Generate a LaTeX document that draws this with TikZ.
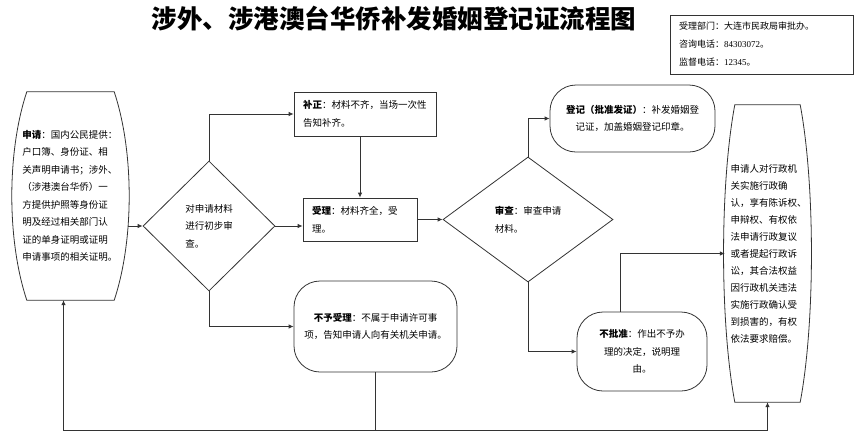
\documentclass[tikz,border=0pt]{standalone}
\usepackage{fontspec}
\setmainfont{Noto Sans CJK SC}
\newfontfamily\latinserif{Liberation Serif}
\usepackage{tikz}
\usetikzlibrary{positioning, calc, arrows.meta, shapes.geometric}
\tikzset{
    block/.style = {rectangle, draw, align=left},
    line/.style = {draw, -{Latex[length=5pt,width=4pt]}},
}

\begin{document}
\begin{tikzpicture}[
        x=1pt, y=-1pt,
        txt/.style={font=\fontsize{9.5}{17.5}\selectfont},
        box/.style={
            rectangle,
            draw=black!80,
            line width=0.8pt,
            align=left,
            inner xsep=9pt,
            txt
        },
        pill/.style={box, rounded corners=26pt, align=center},
        check/.style={
            diamond,
            draw=black!80,
            line width=0.8pt,
            inner sep=0pt,
            align=left,
            txt
        },
        barrel/.style={rectangle, align=left, inner sep=0pt, txt},
        wire/.style={line width=0.8pt, black!80},
        arrow/.style={
            -{Latex[length=5pt,width=4.5pt]},
            line width=0.8pt,
            black!80
        }
    ]
        \useasboundingbox (0,0) rectangle (860,440);

        \node [font=\fontsize{25.5}{30}\selectfont\bfseries] (title) at (394,19) {涉外、涉港澳台华侨补发婚姻登记证流程图};
        \node [box, text width=165pt, minimum height=59pt, font=\fontsize{9}{18}\selectfont] (office) at (761.5,44.5) {受理部门：大连市民政局审批办。\\咨询电话：{\latinserif 84303072}。\\监督电话：{\latinserif 12345}。};

        \node [barrel, text width=96pt, minimum width=115pt, minimum height=208pt] (apply) at (70.5,196) {\textbf{申请}：国内公民提供：\\户口簿、身份证、相\\关声明申请书；涉外、\\（涉港澳台华侨）一\\方提供护照等身份证\\明及经过相关部门认\\证的单身证明或证明\\申请事项的相关证明。};
        \node [check, minimum width=132pt, minimum height=130pt] (check) at (209,226) {对申请材料\\进行初步审\\查。};
        \node [box, text width=124pt, minimum height=44pt] (supply) at (365,114) {\textbf{补正}：材料不齐，当场一次性\\告知补齐。};
        \node [box, text width=96pt, minimum height=43pt] (accept) at (360,219.5) {\textbf{受理}：材料齐全，受\\理。};
        \node [pill, minimum width=163pt, minimum height=91pt] (reject) at (375.5,326.5) {\textbf{不予受理}：不属于申请许可事\\项，告知申请人向有关机关申请。};
        \node [check, minimum width=170pt, minimum height=125pt] (review) at (528,219.5) {\textbf{审查}：审查申请\\材料。};
        \node [pill, minimum width=165pt, minimum height=67pt] (register) at (632.5,118.5) {\textbf{登记（批准发证）}：补发婚姻登\\记证，加盖婚姻登记印章。};
        \node [pill, minimum width=130pt, minimum height=79pt] (deny) at (642,351.5) {\textbf{不批准}：作出不予办\\理的决定，说明理\\由。};
        \node [barrel, text width=74pt, minimum width=85pt, minimum height=297pt, font=\fontsize{9.5}{17}\selectfont] (remedy) at (767.5,253.5) {申请人对行政机\\关实施行政确\\认，享有陈诉权、\\申辩权、有权依\\法申请行政复议\\或者提起行政诉\\讼，其合法权益\\因行政机关违法\\实施行政确认受\\到损害的，有权\\依法要求赔偿。};

        % outlines of the two tall shapes
        \draw [wire] ([xshift=14pt]apply.north west) -- ([xshift=-14pt]apply.north east)
            .. controls ([xshift=6pt,yshift=-60pt]apply.north east) and ([xshift=6pt,yshift=60pt]apply.south east) .. ([xshift=-14pt]apply.south east)
            -- ([xshift=14pt]apply.south west)
            .. controls ([xshift=-6pt,yshift=60pt]apply.south west) and ([xshift=-6pt,yshift=-60pt]apply.north west) .. cycle;
        \draw [wire] ([xshift=10pt]remedy.north west) -- ([xshift=-10pt]remedy.north east)
            .. controls ([xshift=5pt,yshift=-80pt]remedy.north east) and ([xshift=5pt,yshift=80pt]remedy.south east) .. ([xshift=-10pt]remedy.south east)
            -- ([xshift=10pt]remedy.south west)
            .. controls ([xshift=-5pt,yshift=80pt]remedy.south west) and ([xshift=-5pt,yshift=-80pt]remedy.north west) .. cycle;

        \draw [arrow] (apply.east |- check.west) -- (check.west);
        \draw [arrow] (check.north) |- (supply.west);
        \draw [arrow] (check.east) -- (check.east -| accept.west);
        \draw [arrow] (supply.south -| accept.north) -- (accept.north);
        \draw [arrow] (check.south) |- (reject.west);
        \draw [arrow] (accept.east) -- (review.west);
        \draw [arrow] (review.north) |- (register.west);
        \draw [arrow] (review.south) |- (deny.west);
        \draw [arrow] ([xshift=-22pt]deny.north) |- (remedy.west);

        \coordinate (base) at (0,430);
        \draw [arrow] (reject.south) |- ([xshift=-7pt]apply.south |- base) -- ([xshift=-7pt]apply.south);
        \draw [arrow] (reject.south |- base) -| (remedy.south);
    \end{tikzpicture}
\end{document}
